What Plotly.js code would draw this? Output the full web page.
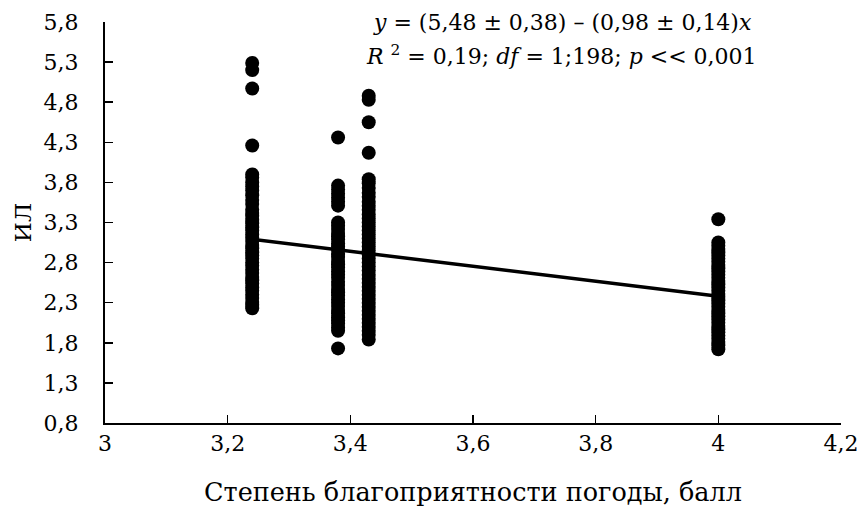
<!DOCTYPE html>
<html>
<head>
<meta charset="utf-8">
<script src="https://cdn.plot.ly/plotly-3.0.1.min.js"></script>
<style>
  html, body { margin: 0; padding: 0; background: #fff; }
  #chart { width: 859px; height: 523px; }
</style>
</head>
<body>
<div id="chart"></div>
<script>
// Weather favourability score (x) for each observation group
const weatherScores = [3.24, 3.38, 3.43, 4.0];

// ИЛ values observed at each weather score
const ilAt324 = [5.29, 5.20, 4.97, 4.26, 3.90, 3.86, 3.80, 3.75, 3.70, 3.64, 3.58, 3.53,
  3.46, 3.42, 3.38, 3.33, 3.29, 3.24, 3.20, 3.15, 3.11, 3.07, 3.02, 2.98, 2.93, 2.89,
  2.85, 2.80, 2.76, 2.71, 2.67, 2.62, 2.58, 2.54, 2.49, 2.45, 2.40, 2.36, 2.31, 2.27, 2.23];
const ilAt338 = [4.36, 3.76, 3.71, 3.66, 3.61, 3.56, 3.51, 3.30, 3.26, 3.22, 3.17, 3.13,
  3.09, 3.04, 3.00, 2.96, 2.91, 2.87, 2.82, 2.78, 2.74, 2.69, 2.65, 2.61, 2.56, 2.52,
  2.47, 2.43, 2.39, 2.34, 2.30, 2.26, 2.21, 2.17, 2.12, 2.08, 2.04, 1.99, 1.95, 1.73];
const ilAt343 = [4.88, 4.83, 4.55, 4.17, 3.84, 3.79, 3.73, 3.67, 3.62, 3.56, 3.51, 3.46,
  3.40, 3.35, 3.30, 3.25, 3.20, 3.15, 3.10, 3.05, 3.00, 2.95, 2.90, 2.85, 2.80, 2.75,
  2.70, 2.65, 2.60, 2.55, 2.50, 2.45, 2.40, 2.35, 2.30, 2.25, 2.20, 2.15, 2.10, 2.05,
  2.00, 1.95, 1.90, 1.84];
const ilAt400 = [3.34, 3.05, 3.01, 2.97, 2.93, 2.89, 2.85, 2.81, 2.77, 2.73, 2.69, 2.65,
  2.61, 2.57, 2.53, 2.49, 2.45, 2.41, 2.37, 2.33, 2.29, 2.25, 2.21, 2.17, 2.13, 2.09,
  2.05, 2.01, 1.97, 1.93, 1.89, 1.85, 1.81, 1.77, 1.72];

// Fitted regression line, drawn across the observed score range
const fitX = [3.24, 4.0];
const fitY = [3.09, 2.38];

// Axis ticks
const xTicks = [3, 3.2, 3.4, 3.6, 3.8, 4, 4.2];
const yTicks = [0.8, 1.3, 1.8, 2.3, 2.8, 3.3, 3.8, 4.3, 4.8, 5.3, 5.8];

// Text
const xTitle = 'Степень благоприятности погоды, балл';
const yTitle = 'ИЛ';
const eqLine1 = '<i>y</i> = (5,48 ± 0,38) – (0,98 ± 0,14)<i>x</i>';
const eqLine2 = '<i>R</i> <sup>2</sup> = 0,19; <i>df</i> = 1;198; <i>p</i> << 0,001';

const groups = [ilAt324, ilAt338, ilAt343, ilAt400];
const pointsX = [];
const pointsY = [];
groups.forEach((vals, i) => {
  vals.forEach(v => { pointsX.push(weatherScores[i]); pointsY.push(v); });
});

const serif = 'DejaVu Serif';

const traces = [
  {
    type: 'scatter', mode: 'markers',
    x: pointsX, y: pointsY,
    marker: { color: '#000', size: 14, line: { width: 0 } },
    hoverinfo: 'x+y'
  },
  {
    type: 'scatter', mode: 'lines',
    x: fitX, y: fitY,
    line: { color: '#000', width: 3.5 },
    hoverinfo: 'skip'
  }
];

function axisBase() {
  return {
    showgrid: false, zeroline: false,
    showline: true, linecolor: '#000', linewidth: 2,
    ticks: 'inside', ticklen: 8, tickwidth: 1.5, tickcolor: '#000',
    tickfont: { family: serif, size: 22, color: '#000' },
    mirror: false, fixedrange: true
  };
}

const layout = {
  width: 859, height: 523,
  margin: { l: 105, r: 18, t: 22, b: 100 },
  paper_bgcolor: '#fff', plot_bgcolor: '#fff',
  showlegend: false,
  separators: ', ',
  font: { family: serif, size: 22, color: '#000' },
  xaxis: Object.assign(axisBase(), {
    range: [3, 4.2], tickmode: 'array', tickvals: xTicks,
    ticklabelstandoff: 0,
    title: { text: xTitle, font: { family: serif, size: 25.5, color: '#000' }, standoff: 28 }
  }),
  yaxis: Object.assign(axisBase(), {
    range: [0.8, 5.8], tickmode: 'array', tickvals: yTicks,
    ticklabelstandoff: 20,
    title: { text: yTitle, font: { family: serif, size: 23, color: '#000' }, standoff: 6 }
  }),
  annotations: [
    { xref: 'paper', yref: 'paper', x: 0.362, y: 1.0, xanchor: 'left', yanchor: 'middle',
      text: eqLine1, showarrow: false, font: { family: serif, size: 22, color: '#000' } },
    { xref: 'paper', yref: 'paper', x: 0.352, y: 0.918, xanchor: 'left', yanchor: 'middle',
      text: eqLine2, showarrow: false, font: { family: serif, size: 22, color: '#000' } }
  ]
};

Plotly.newPlot('chart', traces, layout, { displayModeBar: false, staticPlot: true });
</script>
</body>
</html>
